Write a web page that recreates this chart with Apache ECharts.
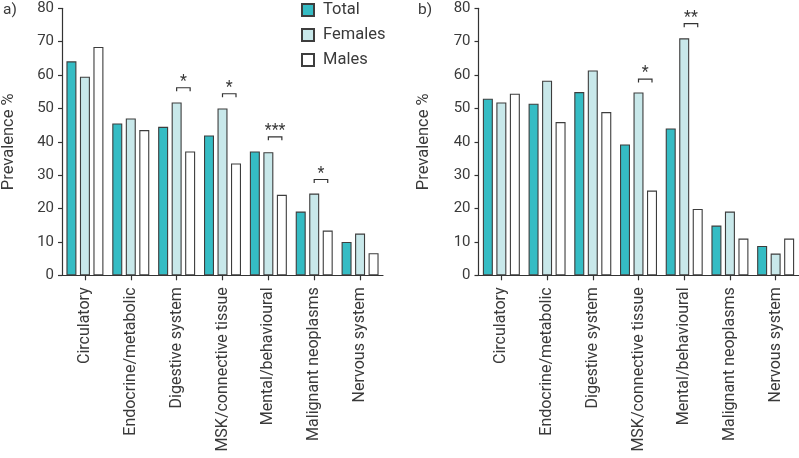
<!DOCTYPE html>
<html>
<head>
<meta charset="utf-8">
<script src="https://cdn.jsdelivr.net/npm/echarts@6/dist/echarts.min.js"></script>
<style>
html,body{margin:0;padding:0;background:#fff;}
#chart{width:799px;height:458px;}
</style>
</head>
<body>
<div id="chart"></div>
<script>
const categories = ['Circulatory','Endocrine/metabolic','Digestive system','MSK/connective tissue','Mental/behavioural','Malignant neoplasms','Nervous system'];
const yTicks = [0,10,20,30,40,50,60,70,80];

// Panel a)
const totalA   = [64.1, 45.5, 44.5, 41.9, 37.1, 19.1, 10.0];
const femalesA = [59.5, 47.0, 51.8, 50.0, 36.9, 24.5, 12.5];
const malesA   = [68.4, 43.5, 37.1, 33.5, 24.1, 13.4, 6.6];
// significance brackets a): [category index, bracket height, label]
const sigA = [[2, 56.2, '*'], [3, 54.4, '*'], [4, 41.5, '***'], [5, 28.7, '*']];

// Panel b)
const totalB   = [52.9, 51.4, 54.9, 39.2, 44.0, 14.9, 8.8];
const femalesB = [51.8, 58.3, 61.4, 54.8, 71.0, 19.1, 6.5];
const malesB   = [54.4, 45.9, 48.9, 25.4, 19.9, 11.0, 11.0];
const sigB = [[3, 58.8, '*'], [4, 75.4, '**']];

const TEXT = '#3a3a3a';
const FONT = 'Roboto';
const colTotal = '#35bcc4';
const colFem = '#c8e8ea';
const colMale = '#ffffff';
const border = '#3d3d3d';

function yAxis(idx, gap) {
  return {
    gridIndex: idx, type: 'value', min: 0, max: 80, interval: 10,
    name: 'Prevalence %', nameLocation: 'middle', nameGap: gap,
    nameTextStyle: {color: TEXT, fontSize: 16.5, fontFamily: FONT},
    axisLine: {show: true, lineStyle: {color: '#333', width: 1.2}},
    axisTick: {show: true, length: 4, lineStyle: {color: '#333', width: 1.2}},
    splitLine: {show: false},
    axisLabel: {color: TEXT, fontSize: 15, fontFamily: FONT, margin: 8,
      formatter: v => yTicks.includes(v) ? String(v) : ''}
  };
}
function xAxis(idx) {
  return {
    gridIndex: idx, type: 'category', data: categories,
    axisLine: {show: true, lineStyle: {color: '#333', width: 1.2}},
    axisTick: {show: true, alignWithLabel: true, length: 5, lineStyle: {color: '#333', width: 1.2}},
    axisLabel: {color: TEXT, fontSize: 16, fontFamily: FONT, rotate: 90, margin: 12, interval: 0}
  };
}
function bars(name, data, color, idx) {
  return {
    name, type: 'bar', xAxisIndex: idx, yAxisIndex: idx, data,
    barWidth: 10, barGap: '35%',
    itemStyle: {color, borderColor: border, borderWidth: 1.1},
    emphasis: {disabled: true}
  };
}
function brackets(data, idx) {
  return {
    type: 'custom', xAxisIndex: idx, yAxisIndex: idx, data,
    silent: true, z: 5,
    renderItem: (params, api) => {
      const p = api.coord([api.value(0), api.value(1)]);
      const step = 13.5;
      const x0 = p[0], x1 = p[0] + step, y = p[1];
      const label = data[params.dataIndex][2];
      return {
        type: 'group',
        children: [
          {type: 'polyline', shape: {points: [[x0, y + 3.5], [x0, y], [x1, y], [x1, y + 3.5]]},
           style: {stroke: '#333', lineWidth: 1.2, fill: null}},
          {type: 'text', style: {text: label, x: (x0 + x1) / 2, y: y - 6, align: 'center', verticalAlign: 'middle',
            fontSize: 16, fontFamily: FONT, fill: TEXT}}
        ]
      };
    }
  };
}

const chart = echarts.init(document.getElementById('chart'), null, {renderer: 'canvas'});
chart.setOption({
  animation: false,
  backgroundColor: '#fff',
  textStyle: {fontFamily: FONT},
  grid: [
    {left: 62, width: 321, top: 8.3, bottom: 182.7, containLabel: false, outerBoundsMode: 'none'},
    {left: 478.5, width: 320, top: 8.3, bottom: 182.7, containLabel: false, outerBoundsMode: 'none'}
  ],
  legend: {
    data: ['Total', 'Females', 'Males'], orient: 'vertical', left: 301, top: 1.5, padding: 0,
    itemWidth: 12, itemHeight: 12, itemGap: 8, icon: 'rect',
    textStyle: {color: TEXT, fontSize: 16.5, fontFamily: FONT, padding: [0, 0, 0, 4]},
    selectedMode: false
  },
  xAxis: [xAxis(0), xAxis(1)],
  yAxis: [yAxis(0, 45), yAxis(1, 46)],
  graphic: [
    {type: 'text', left: 3, top: 2, style: {text: 'a)', fontSize: 15.5, fontFamily: FONT, fill: TEXT}},
    {type: 'text', left: 418, top: 2, style: {text: 'b)', fontSize: 15.5, fontFamily: FONT, fill: TEXT}}
  ],
  series: [
    bars('Total', totalA, colTotal, 0),
    bars('Females', femalesA, colFem, 0),
    bars('Males', malesA, colMale, 0),
    bars('Total', totalB, colTotal, 1),
    bars('Females', femalesB, colFem, 1),
    bars('Males', malesB, colMale, 1),
    brackets(sigA, 0),
    brackets(sigB, 1)
  ]
});
</script>
</body>
</html>
